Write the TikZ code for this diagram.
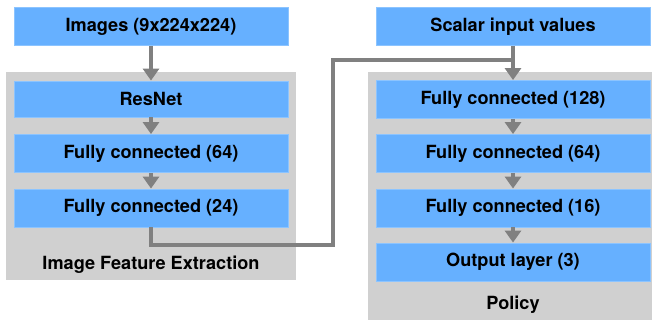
\documentclass[tikz,border=0pt]{standalone}
\usepackage{fontspec}
\setmainfont{TeX Gyre Heros}
\usetikzlibrary{arrows.meta,positioning}
\definecolor{nnblue}{RGB}{102,176,255}
\definecolor{nnedge}{RGB}{140,196,255}
\definecolor{nngray}{RGB}{208,208,208}
\definecolor{nnline}{RGB}{128,128,128}
\tikzset{
  layer/.style={rectangle, draw=nnedge, fill=nnblue, line width=0.6pt, minimum width=6.85cm, minimum height=0.95cm, font=\bfseries\fontsize{12.9}{15}\selectfont},
  panel/.style={rectangle, fill=nngray, inner sep=0pt},
  caption/.style={font=\bfseries\fontsize{12.9}{15}\selectfont},
  flow/.style={line width=0.1cm, color=nnline, -{Triangle[width=0.4cm,length=0.3cm]}},
  link/.style={line width=0.1cm, color=nnline}
}
\begin{document}
\begin{tikzpicture}[x=0.025cm, y=-0.025cm]
    \useasboundingbox (0,0) rectangle (652,320);

    % Panels
    \node[panel, minimum width=7.25cm, minimum height=5.2cm] (ife) at (151,176) {};
    \node[panel, minimum width=7.1cm, minimum height=6.2cm] (pol) at (510,196) {};

    % Image feature extraction
    \node[layer] (img) at (151,26.5) {Images (9x224x224)};
    \node[layer, minimum height=0.9cm] (resnet) at (151,99) {ResNet};
    \node[layer] (ifc1) at (151,153.5) {Fully connected (64)};
    \node[layer] (ifc2) at (151,208) {Fully connected (24)};
    \node[caption] (ifelabel) at (151,265) {Image Feature Extraction};

    % Policy
    \node[layer] (scalar) at (513,26.5) {Scalar input values};
    \node[layer] (pfc1) at (513,99.5) {Fully connected (128)};
    \node[layer] (pfc2) at (513,153.5) {Fully connected (64)};
    \node[layer] (pfc3) at (513,208) {Fully connected (16)};
    \node[layer] (out) at (513,262) {Output layer (3)};
    \node[caption] (pollabel) at (513,305) {Policy};

    % Connecting lines
    \coordinate (turn) at (333,245);
    \coordinate (join) at (513,60);
    \draw[flow] (img) -- (resnet);
    \draw[flow] (resnet) -- (ifc1);
    \draw[flow] (ifc1) -- (ifc2);
    \draw[link] (ifc2.south) |- (turn) |- (join);
    \draw[flow] (scalar) -- (pfc1);
    \draw[flow] (pfc1) -- (pfc2);
    \draw[flow] (pfc2) -- (pfc3);
    \draw[flow] (pfc3) -- (out);
\end{tikzpicture}
\end{document}
